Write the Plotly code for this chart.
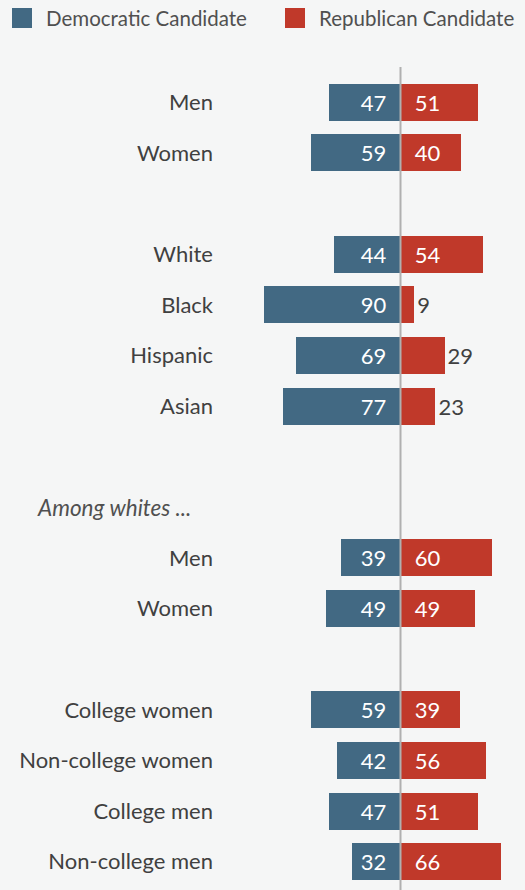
import plotly.graph_objects as go

# ---- data ----
slots = list(range(16))
labels = ["Men", "Women", "", "White", "Black", "Hispanic", "Asian", "",
          "", "Men", "Women", "", "College women", "Non-college women",
          "College men", "Non-college men"]
dem = [47, 59, None, 44, 90, 69, 77, None, None, 39, 49, None, 59, 42, 47, 32]
rep = [51, 40, None, 54, 9, 29, 23, None, None, 60, 49, None, 39, 56, 51, 66]
section_note = "Among whites ..."
note_slot = 8
series_names = ["Democratic Candidate", "Republican Candidate"]

BLUE = "#426983"
RED = "#c0392a"
BG = "#f5f6f6"
TXT = "#404040"
FONT = "Lato"

W, H = 525, 890
ML, MR, MT, MB = 220, 0, 77, 3
plot_w = W - ML - MR
plot_h = H - MT - MB

def px_x(p):
    return (p - ML) / plot_w

def px_y(p):
    return (H - MB - p) / plot_h

PAD = "\u00a0\u00a0"

def inside(v):
    return v is not None and v >= 30

dem_x = [(-v if v is not None else None) for v in dem]
dem_text = [(str(v) + PAD if v is not None else "") for v in dem]
rep_text = [((PAD + str(v)) if inside(v) else str(v)) if v is not None else "" for v in rep]
rep_pos = ["inside" if inside(v) else "outside" for v in rep]
rep_col = ["white" if inside(v) else TXT for v in rep]

fig = go.Figure()
fig.add_trace(go.Bar(
    y=slots, x=dem_x, orientation="h", name=series_names[0],
    marker=dict(color=BLUE, line=dict(width=0)), width=0.73,
    text=dem_text, textposition="inside", insidetextanchor="start",
    textfont=dict(family=FONT, size=22, color="white"),
    cliponaxis=False, showlegend=False, hoverinfo="skip",
))
fig.add_trace(go.Bar(
    y=slots, x=rep, orientation="h", name=series_names[1],
    marker=dict(color=RED, line=dict(width=0)), width=0.73,
    text=rep_text, textposition=rep_pos, insidetextanchor="start",
    textfont=dict(family=FONT, size=22, color=rep_col),
    outsidetextfont=dict(family=FONT, size=22, color=TXT),
    insidetextfont=dict(family=FONT, size=22, color="white"),
    cliponaxis=False, showlegend=False, hoverinfo="skip",
))

shapes = [
    dict(type="line", xref="x", yref="paper", x0=0, x1=0,
         y0=-0.01, y1=px_y(67), line=dict(color="#b0b0b0", width=2)),
    dict(type="rect", xref="paper", yref="paper",
         x0=px_x(12), x1=px_x(32), y0=px_y(28), y1=px_y(8),
         fillcolor=BLUE, line=dict(width=0)),
    dict(type="rect", xref="paper", yref="paper",
         x0=px_x(285), x1=px_x(305), y0=px_y(28), y1=px_y(8),
         fillcolor=RED, line=dict(width=0)),
]

annotations = [
    dict(xref="paper", yref="paper", x=px_x(44), y=px_y(18), xanchor="left",
         yanchor="middle", text=series_names[0], showarrow=False,
         font=dict(family=FONT, size=20.5, color="#505050")),
    dict(xref="paper", yref="paper", x=px_x(317), y=px_y(18), xanchor="left",
         yanchor="middle", text=series_names[1], showarrow=False,
         font=dict(family=FONT, size=20.5, color="#505050")),
    dict(xref="paper", yref="y", x=px_x(35), y=note_slot, xanchor="left",
         yanchor="middle", text="<i>" + section_note + "</i>", showarrow=False,
         font=dict(family=FONT, size=22.5, color="#505050")),
]

fig.update_layout(
    width=W, height=H,
    margin=dict(l=ML, r=MR, t=MT, b=MB),
    paper_bgcolor=BG, plot_bgcolor=BG,
    barmode="overlay", bargap=0,
    shapes=shapes, annotations=annotations,
    uniformtext=dict(minsize=22, mode="show"),
    hovermode=False,
    xaxis=dict(range=[-118.75, 81.9], showgrid=False, zeroline=False,
               showticklabels=False, fixedrange=True),
    yaxis=dict(range=[15.5, -0.5], tickmode="array", tickvals=slots,
               ticktext=labels, showgrid=False, zeroline=False, ticks="",
               ticklabelstandoff=6, fixedrange=True,
               tickfont=dict(family=FONT, size=22, color=TXT)),
)

fig.write_html(
    "out.html",
    config={"displayModeBar": False, "staticPlot": True},
    post_script="document.body.style.margin='0';document.body.style.background='" + BG + "';document.body.style.overflow='hidden';",
)
